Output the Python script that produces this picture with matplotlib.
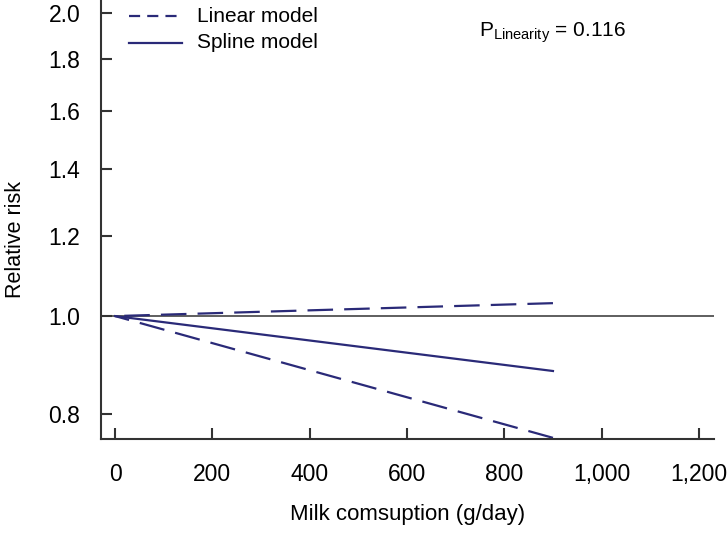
import numpy as np
import matplotlib
matplotlib.use("Agg")
import matplotlib.pyplot as plt
from matplotlib.ticker import FixedLocator, NullLocator, FuncFormatter

plt.rcParams['font.family'] = ['Liberation Sans', 'DejaVu Sans']

# data (relative risk vs milk intake)
dose = [0, 900]
rr_upper = [1.0, 1.03]
rr_spline = [1.0, 0.882]
rr_lower = [1.0, 0.757]

y_ticks = [0.8, 1.0, 1.2, 1.4, 1.6, 1.8, 2.0]
x_ticks = [0, 200, 400, 600, 800, 1000, 1200]

navy = '#2a2a78'
grey = '#333333'

fig = plt.figure(figsize=(7.27, 5.33), dpi=100)
# axes: left spine at x=101, bottom at y=439, right end at x=714
ax = fig.add_axes([101 / 727, (533 - 439) / 533, (714 - 101) / 727, 439 / 533])

ax.set_yscale('log')
ax.set_xlim(-29, 1231)
ax.set_ylim(0.755, 2.06)

ax.axhline(1.0, color=grey, lw=1.1, zorder=1)
# dashed lines drawn from the right end so that they finish on a dash
ax.plot(dose[::-1], rr_upper[::-1], color=navy, lw=1.6, ls=(0, (11.5, 5)), clip_on=False)
ax.plot(dose, rr_spline, color=navy, lw=1.6)
ax.plot(dose[::-1], rr_lower[::-1], color=navy, lw=1.6, ls=(0, (11.5, 5)), clip_on=False)

# legend drawn by hand, no frame
ly1 = 1 - 16 / 439
ly2 = 1 - 43 / 439
lx0, lx1, tx = 28 / 613, 81 / 613, 96 / 613
ax.plot([lx0, lx1], [ly1, ly1], transform=ax.transAxes,
        color=navy, lw=1.6, ls=(0, (5, 3.2)), clip_on=False)
ax.text(tx, ly1, 'Linear model', transform=ax.transAxes,
        fontsize=15, va='center', ha='left')
ax.plot([lx0, lx1], [ly2, ly2], transform=ax.transAxes,
        color=navy, lw=1.6, clip_on=False)
ax.text(tx, ly2, 'Spline model', transform=ax.transAxes,
        fontsize=15, va='center', ha='left')

ax.text(378 / 613, 1 - 33 / 439, r'P$_{\mathregular{Linearity}}$ = 0.116',
        transform=ax.transAxes, fontsize=15, va='center', ha='left')

ax.yaxis.set_major_locator(FixedLocator(y_ticks))
ax.yaxis.set_minor_locator(NullLocator())
ax.yaxis.set_major_formatter(FuncFormatter(lambda v, p: f'{v:.1f}'))
ax.set_xticks(x_ticks)
ax.xaxis.set_major_formatter(FuncFormatter(lambda v, p: f'{int(v):,}'))

for s in ['top', 'right']:
    ax.spines[s].set_visible(False)
for s in ['left', 'bottom']:
    ax.spines[s].set_color(grey)
    ax.spines[s].set_linewidth(1.5)

ax.tick_params(axis='both', direction='in', length=8, width=1.5, color=grey,
               labelsize=16.5)
ax.tick_params(axis='y', pad=15)
ax.tick_params(axis='x', pad=17)

ax.set_ylabel('Relative risk', fontsize=15.5)
ax.yaxis.set_label_coords(-(101 - 26) / 613, 1 - 239 / 439)
ax.set_xlabel('Milk comsuption (g/day)', fontsize=16)
ax.xaxis.set_label_coords((408 - 101) / 613, -(504 - 439) / 439)

fig.savefig('out.png', dpi=100)
